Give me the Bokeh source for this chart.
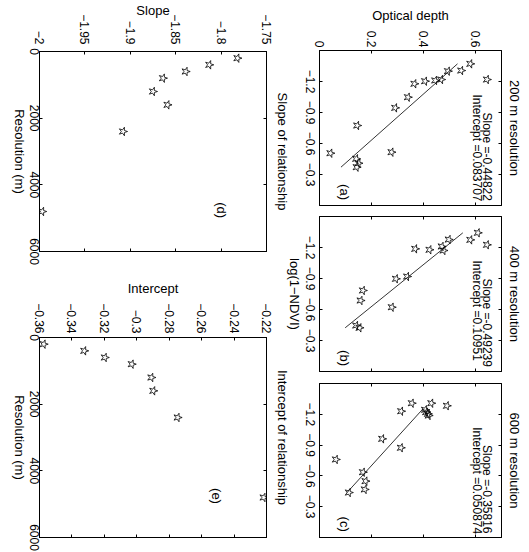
from bokeh.embed import file_html
from bokeh.layouts import column, row
from bokeh.models import CustomLabelingPolicy, FixedTicker, Label, LinearAxis, Range1d
from bokeh.plotting import figure
from bokeh.resources import INLINE

FONT = "Liberation Sans"

# ---- optical depth against log(1-NDVI) at three resolutions ----
resolution_titles = ["200 m resolution", "400 m resolution", "600 m resolution"]
scatter_tags = ["(a)", "(b)", "(c)"]

log_ndvi_200 = [-1.371, -1.306, -1.219, -1.300, -1.219, -1.210, -1.203, -1.178,
                -1.048, -0.945, -0.774, -0.516, -0.506, -0.452, -0.409, -0.371]
tau_200 = [0.580, 0.545, 0.644, 0.494, 0.468, 0.445, 0.406, 0.365,
           0.340, 0.291, 0.145, 0.277, 0.042, 0.141, 0.150, 0.143]

log_ndvi_400 = [-1.342, -1.274, -1.226, -1.277, -1.210, -1.171, -1.178, -1.187,
                -0.919, -0.897, -0.784, -0.687, -0.622, -0.445, -0.423]
tau_400 = [0.609, 0.580, 0.644, 0.497, 0.470, 0.477, 0.423, 0.368,
           0.337, 0.294, 0.167, 0.158, 0.278, 0.141, 0.154]

log_ndvi_600 = [-1.308, -1.308, -1.283, -1.244, -1.221, -1.205, -1.188, -1.230,
                -0.961, -0.874, -0.760, -0.636, -0.549, -0.468, -0.438]
tau_600 = [0.430, 0.355, 0.490, 0.406, 0.410, 0.417, 0.420, 0.314,
           0.241, 0.313, 0.063, 0.167, 0.177, 0.174, 0.113]

fit_slope = [-0.44822, -0.49239, -0.35816]
fit_intercept = [0.083707, 0.10951, 0.050874]
fit_start = [-1.371, -1.342, -1.254]
fit_end = [-0.371, -0.423, -0.438]

# ---- regression coefficients against pixel size ----
resolution_m = [200, 400, 600, 800, 1200, 1600, 2400, 4800]
slope_by_res = [-1.782, -1.813, -1.839, -1.864, -1.875, -1.859, -1.908, -1.997]
intercept_by_res = [-0.3574, -0.3324, -0.3197, -0.3031, -0.2910, -0.2898, -0.2748, -0.2218]

tau_ticks = [0, 0.2, 0.4, 0.6]
log_ndvi_ticks = [-1.2, -0.9, -0.6, -0.3]
res_ticks = [0, 2000, 4000, 6000]
slope_ticks = [-2, -1.95, -1.9, -1.85, -1.8, -1.75]
intercept_ticks = [-0.36, -0.34, -0.32, -0.3, -0.28, -0.26, -0.24, -0.22]

# axes that only carry tick marks draw no labels at all
NO_LABELS = CustomLabelingPolicy(
    code="for (const i of [...indices]) indices.unset(i); return indices")


def tick_text(v):
    return ("%g" % v).replace("-", "\u2212")


def frame_axis(ticks, labelled, standoff=3):
    ax = LinearAxis(ticker=FixedTicker(ticks=ticks), major_tick_in=3, major_tick_out=0,
                    minor_tick_line_color=None, axis_line_color="black",
                    major_tick_line_color="black")
    if labelled:
        ax.major_label_overrides = {t: tick_text(t) for t in ticks}
        ax.major_label_text_font = FONT
        ax.major_label_text_font_size = "12px"
        ax.major_label_text_color = "black"
        ax.major_label_standoff = standoff
    else:
        ax.major_label_text_font_size = "0px"
        ax.major_label_standoff = 0
        ax.major_label_policy = NO_LABELS
    return ax


def name_axis(ax, text, standoff):
    ax.axis_label = text
    ax.axis_label_text_font = FONT
    ax.axis_label_text_font_size = "13px"
    ax.axis_label_text_font_style = "normal"
    ax.axis_label_text_color = "black"
    ax.axis_label_standoff = standoff


def note(p, x, y, text, size="13px", align="center"):
    p.add_layout(Label(x=x, y=y, text=text, text_align=align, text_baseline="middle",
                       text_font=FONT, text_font_size=size, text_color="black"))


def panel(side, borders, x_range, y_range, x_ticks, y_ticks, x_labelled, y_labelled,
          title, title_standoff, x_standoff, y_standoff, shift=0):
    # square canvases, so the quarter turn of the page cannot swap their sizes;
    # the spare border is transparent and overlaps the neighbouring panel
    top, right, bottom, left = borders
    p = figure(width=side, height=side, x_range=x_range, y_range=y_range,
               x_axis_location=None, y_axis_location=None,
               toolbar_location=None, output_backend="svg",
               min_border_top=top, min_border_right=right,
               min_border_bottom=bottom, min_border_left=left, title=title,
               margin=(0, 0, 0, shift))
    p.border_fill_color = None
    p.background_fill_color = None
    p.outline_line_color = "black"
    p.outline_line_width = 1
    p.grid.visible = False
    p.title.text_font = FONT
    p.title.text_font_size = "13px"
    p.title.text_font_style = "normal"
    p.title.text_color = "black"
    p.title.align = "center"
    p.title.standoff = title_standoff

    below = frame_axis(x_ticks, x_labelled, x_standoff)
    left_ax = frame_axis(y_ticks, y_labelled, y_standoff)
    p.add_layout(below, "below")
    p.add_layout(left_ax, "left")
    p.add_layout(frame_axis(x_ticks, False), "above")
    p.add_layout(frame_axis(y_ticks, False), "right")
    return p, below, left_ax


def stars(p, x, y):
    p.scatter(x=x, y=y, marker="star", size=9, fill_color=None,
              line_color="black", line_width=0.8)


# ---- top row: one scatter per resolution ----
samples = [(log_ndvi_200, tau_200), (log_ndvi_400, tau_400), (log_ndvi_600, tau_600)]
layouts = [((26, 45, 41, 50), 0), ((26, 89, 41, 6), -40), ((26, 15, 41, 81), -158)]
scatters = []
for i, ((log_ndvi, tau), (borders, shift)) in enumerate(zip(samples, layouts)):
    p, below, left_ax = panel(250, borders, Range1d(-1.5, 0), Range1d(0, 0.7),
                              log_ndvi_ticks, tau_ticks, True, i == 0,
                              resolution_titles[i], 10, 5, 3, shift)
    if i == 0:
        name_axis(left_ax, "Optical depth", 5)
    if i == 1:
        name_axis(below, "log(1\u2212NDVI)", 1)
    stars(p, log_ndvi, tau)
    xs = [fit_start[i], fit_end[i]]
    p.line(x=xs, y=[fit_slope[i] * v - fit_intercept[i] for v in xs],
           line_color="black", line_width=0.8)
    note(p, -0.9, 0.646, "Slope =" + str(fit_slope[i]), size="12px", align="left")
    note(p, -1.075, 0.604, "Intercept =" + str(fit_intercept[i]), size="12px", align="left")
    note(p, -0.13, 0.096, scatter_tags[i])
    scatters.append(p)

# ---- bottom row: slope and intercept against resolution ----
p_d, d_below, d_left = panel(300, (32, 49, 40, 50), Range1d(0, 6000), Range1d(-2, -1.75),
                             res_ticks, slope_ticks, True, True,
                             "Slope of relationship", 16, 1, 7)
name_axis(d_left, "Slope", -7)
name_axis(d_below, "Resolution (m)", 0)
stars(p_d, resolution_m, slope_by_res)
note(p_d, 4760, -1.80, "(d)")

p_e, e_below, e_left = panel(300, (32, 15, 40, 85), Range1d(0, 6000), Range1d(-0.36, -0.22),
                             res_ticks, intercept_ticks, True, True,
                             "Intercept of relationship", 16, 1, 4, -48)
name_axis(e_left, "Intercept", 4)
name_axis(e_below, "Resolution (m)", 0)
stars(p_e, resolution_m, intercept_by_res)
note(p_e, 4755, -0.2507, "(e)")

top_row = row(*scatters)
bottom_row = row(p_d, p_e, margin=(-21, 0, 0, 0))

# the figure is laid out landscape and shown turned a quarter clockwise
page = column(top_row, bottom_row,
              styles={"transform": "translate(529px, 0px) rotate(90deg)",
                      "transform-origin": "0 0"})

open("out.html", "w").write(file_html(page, INLINE))
